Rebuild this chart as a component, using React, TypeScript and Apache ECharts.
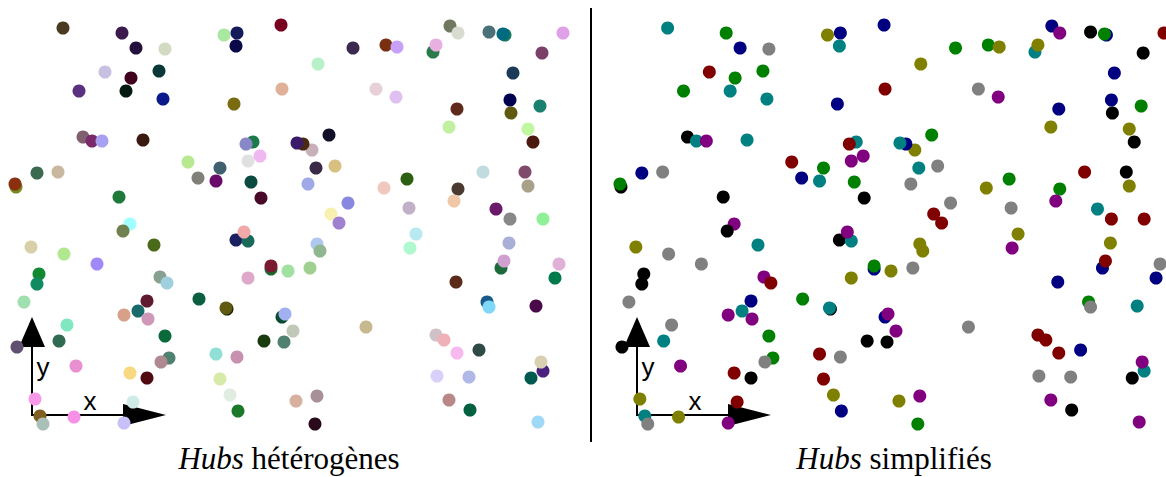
import React, { useEffect, useRef } from "react";
import * as echarts from "echarts";

// Point positions (shared by both panels), in panel data units
const xValues = [
  63, 122, 136, 165, 224, 237, 236, 281, 105, 131, 159, 79, 126, 163, 234, 282,
  83, 92, 102, 143, 37, 58, 16, 15, 119, 130, 188, 198, 216, 220, 253, 246,
  260, 248, 251, 261, 353, 386, 397, 318, 376, 396, 450, 458, 433, 436, 489, 505,
  503, 563, 542, 513, 510, 511, 540, 457, 449, 528, 533, 329, 312, 303, 297, 316,
  335, 308, 348, 331, 339, 384, 407, 409, 483, 458, 454, 525, 528, 496, 510, 543,
  123, 154, 31, 64, 97, 39, 37, 24, 67, 59, 17, 76, 35, 40, 43, 74,
  124, 133, 130, 147, 160, 167, 147, 138, 124, 148, 165, 169, 161, 199, 227, 226,
  216, 237, 220, 230, 238, 236, 248, 244, 271, 271, 248, 288, 282, 285, 264, 284,
  317, 320, 310, 416, 410, 509, 501, 504, 559, 555, 456, 487, 489, 536, 293, 366,
  436, 444, 457, 479, 437, 469, 543, 531, 541, 296, 317, 315, 449, 470, 538,
];
const yValues = [
  420, 415, 400, 399, 413, 415, 402, 423, 376, 370, 377, 357, 357, 349, 344, 359,
  311, 307, 307, 308, 275, 276, 261, 264, 251, 224, 286, 270, 267, 280, 306, 304,
  292, 287, 266, 250, 400, 403, 401, 384, 359, 351, 422, 415, 396, 403, 416, 413,
  414, 415, 395, 375, 348, 335, 342, 339, 321, 319, 306, 313, 298, 304, 305, 280,
  282, 264, 245, 234, 225, 260, 269, 240, 276, 259, 247, 276, 262, 239, 229, 229,
  217, 203, 201, 194, 184, 174, 164, 146, 123, 107, 101, 82, 49, 32, 24, 31,
  25, 46, 75, 70, 171, 165, 147, 137, 133, 129, 112, 90, 86, 149, 139, 140,
  94, 91, 69, 53, 37, 208, 207, 216, 179, 182, 170, 177, 131, 134, 107, 106,
  204, 197, 180, 214, 200, 205, 180, 187, 184, 170, 166, 146, 141, 142, 117, 121,
  113, 108, 95, 98, 72, 71, 77, 70, 86, 47, 52, 24, 48, 38, 26,
];
// Left panel: heterogeneous hub colours
const heteroColors = [
  "#4a3a22", "#3d1a4e", "#24103a", "#d2dbc2", "#a8e8a0", "#141a5a", "#0a0a4a", "#7a0020",
  "#c8c0e0", "#40001e", "#0a3838", "#5a3080", "#051a10", "#0a1a8a", "#7a6a10", "#e0b098",
  "#806070", "#7a2a6a", "#a8a0f0", "#3a1a10", "#3a6a50", "#c8b8a0", "#7a8a20", "#8a3010",
  "#1e7a3a", "#a0ffff", "#b8e890", "#808078", "#6a0a6a", "#406070", "#1a7a4a", "#8888c8",
  "#f0b8f0", "#e0e0e0", "#0a4a40", "#480a28", "#3a2a50", "#7a3010", "#c8a0f8", "#b8f0c8",
  "#e8d0d8", "#e0c0f0", "#707860", "#d8dcd0", "#2a7a4a", "#e8b0e0", "#4a7078", "#1a7a5a",
  "#006a80", "#e0a0e8", "#7a4068", "#1a3a58", "#000050", "#605a10", "#1a8070", "#602a1a",
  "#c0f0a0", "#c0f8a0", "#4a1a10", "#101028", "#c8b0b8", "#4a2a10", "#3a1a6a", "#3a2a48",
  "#d8c080", "#a0a8e8", "#8888e0", "#f8f0b0", "#a080d0", "#f0c8c0", "#2a6010", "#c0b0c8",
  "#c0dce0", "#4a3a30", "#f0c8a8", "#804a6a", "#a8a088", "#6a1a6a", "#888888", "#90f098",
  "#708050", "#4a6a1a", "#d8d0a8", "#b0e890", "#a088f8", "#108a30", "#108a60", "#a0e0b0",
  "#80e8c0", "#306a50", "#605070", "#e890d0", "#f898e8", "#806020", "#a8c0b8", "#f890e8",
  "#c8c0f8", "#d0ece8", "#f8d880", "#500a10", "#88a090", "#a0d0e0", "#601a30", "#1a6a6a",
  "#d8a088", "#d098b8", "#0a6a3a", "#508070", "#b08890", "#0a6040", "#1a1a00", "#605a10",
  "#90e0d8", "#c890b0", "#d8eaa8", "#e0ece0", "#1a7a2a", "#1a2060", "#1a6a5a", "#f0a8a8",
  "#1a6a30", "#7a1a30", "#e0a8c8", "#a0e0a0", "#0a4a30", "#a0b0f0", "#1a3a10", "#508070",
  "#b0c8f0", "#90b890", "#a0d090", "#b8e8f0", "#b0f8d0", "#a8b0d8", "#1a6a3a", "#d0a0d0",
  "#e0b0d8", "#007a4a", "#5a2a1a", "#1a5a8a", "#80d8f8", "#4a0a4a", "#c0c8b8", "#c8b890",
  "#d0c0c8", "#f0b0b8", "#f8b8f0", "#304a48", "#d8d0f8", "#b0b8e8", "#4a2080", "#005a50",
  "#d8d0b0", "#d8b0a0", "#a89098", "#2a0a1a", "#b88888", "#006040", "#a0d8f8",
];
// Right panel: simplified hub classes
const simpleClasses = [
  "T", "G", "N", "Gy", "O", "N", "T", "N", "M", "G", "G", "G", "T", "T", "N", "M",
  "K", "T", "P", "T", "N", "Gy", "K", "G", "K", "P", "M", "N", "T", "G", "T", "M",
  "P", "P", "G", "K", "G", "G", "O", "O", "Gy", "P", "N", "P", "T", "O", "K", "N",
  "G", "M", "K", "N", "N", "K", "G", "N", "O", "O", "K", "G", "O", "N", "T", "T",
  "Gy", "Gy", "Gy", "M", "M", "O", "G", "Gy", "M", "G", "P", "K", "O", "T", "M", "M",
  "K", "T", "O", "Gy", "Gy", "K", "K", "Gy", "Gy", "T", "K", "P", "O", "T", "Gy", "O",
  "P", "M", "M", "K", "P", "M", "N", "T", "P", "P", "G", "G", "Gy", "G", "K", "T",
  "M", "Gy", "M", "O", "N", "K", "T", "P", "N", "G", "O", "O", "N", "P", "K", "K",
  "O", "O", "Gy", "O", "P", "O", "N", "M", "Gy", "N", "N", "G", "Gy", "T", "P", "Gy",
  "M", "M", "M", "N", "Gy", "Gy", "T", "K", "P", "O", "P", "G", "P", "K", "P",
];
const classPalette: Record<string, string> = {
  T: "#008080", G: "#008000", N: "#000080", Gy: "#808080",
  M: "#800000", O: "#808000", P: "#800080", K: "#000000",
};
const captions = ["{i|Hubs} hétérogènes", "{i|Hubs} simplifiés"];
const axisLetters = ["x", "y"];

export default function App() {
  const ref = useRef<HTMLDivElement>(null);
  useEffect(() => {
    if (!ref.current) return;
    const chart = echarts.init(ref.current, null, { renderer: "svg" });
    const offsets = [0, 605];
    const graphics: any[] = [
      { type: "line", z: 1, shape: { x1: 591, y1: 8, x2: 591, y2: 442 }, style: { stroke: "#000", lineWidth: 2 } },
    ];
    offsets.forEach((dx, i) => {
      graphics.push(
        { type: "line", z: 1, shape: { x1: 32 + dx, y1: 340, x2: 32 + dx, y2: 416 }, style: { stroke: "#000", lineWidth: 2 } },
        { type: "line", z: 1, shape: { x1: 31 + dx, y1: 415, x2: 128 + dx, y2: 415 }, style: { stroke: "#000", lineWidth: 2 } },
        { type: "polygon", z: 1, shape: { points: [[32 + dx, 317], [19 + dx, 347], [45 + dx, 347]] }, style: { fill: "#000" } },
        { type: "polygon", z: 1, shape: { points: [[166 + dx, 415], [123 + dx, 404], [123 + dx, 426]] }, style: { fill: "#000" } },
        { type: "text", z: 1, x: 90 + dx, y: 401, style: { text: axisLetters[0], fontFamily: "Liberation Sans", fontSize: 26, fill: "#000", align: "center", verticalAlign: "middle" } },
        { type: "text", z: 1, x: 43 + dx, y: 367, style: { text: axisLetters[1], fontFamily: "Liberation Sans", fontSize: 26, fill: "#000", align: "center", verticalAlign: "middle" } },
        {
          type: "text", z: 1, x: i === 0 ? 289 : 894, y: 458,
          style: {
            text: captions[i], fontFamily: "Liberation Serif", fontSize: 31, fill: "#000",
            align: "center", verticalAlign: "middle",
            rich: { i: { fontStyle: "italic", fontFamily: "Liberation Serif", fontSize: 31, fill: "#000" } },
          },
        }
      );
    });
    const leftData = xValues.map((x, k) => ({ value: [x, yValues[k]], itemStyle: { color: heteroColors[k], opacity: 1 } }));
    const rightData = xValues.map((x, k) => ({ value: [x, yValues[k]], itemStyle: { color: classPalette[simpleClasses[k]], opacity: 1 } }));
    chart.setOption({
      animation: false,
      grid: [
        { left: 12, top: 20, width: 553, height: 408 },
        { left: 617, top: 20, width: 553, height: 408 },
      ],
      xAxis: [0, 1].map((g) => ({ type: "value", gridIndex: g, min: 12, max: 565, show: false })),
      yAxis: [0, 1].map((g) => ({ type: "value", gridIndex: g, min: 20, max: 428, show: false })),
      graphic: graphics,
      series: [
        { type: "scatter", xAxisIndex: 0, yAxisIndex: 0, symbolSize: 13, clip: true, z: 5, itemStyle: { opacity: 1 }, data: leftData },
        { type: "scatter", xAxisIndex: 1, yAxisIndex: 1, symbolSize: 13, clip: true, z: 5, itemStyle: { opacity: 1 }, data: rightData },
      ],
    });
    return () => chart.dispose();
  }, []);
  return <div ref={ref} style={{ position: "absolute", left: 0, top: 0, width: 1166, height: 477, background: "#fff" }} />;
}
